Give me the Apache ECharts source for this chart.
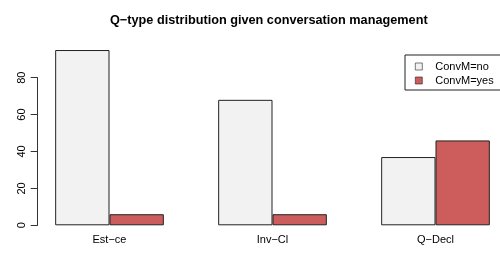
<!DOCTYPE html>
<html>
<head>
<meta charset="utf-8">
<script src="https://cdn.jsdelivr.net/npm/echarts@6/dist/echarts.min.js"></script>
<style>
  html, body { margin: 0; padding: 0; background: #fff; }
  #chart { width: 500px; height: 253px; }
</style>
</head>
<body>
<div id="chart"></div>
<script>
var categories = ['Est\u2212ce', 'Inv\u2212Cl', 'Q\u2212Decl'];
var convNo = [95, 68, 37];
var convYes = [6, 6, 46];
var yTicks = [0, 20, 40, 60, 80];

var chart = echarts.init(document.getElementById('chart'));
var font = 'Liberation Sans, Arial, Helvetica, sans-serif';

var option = {
	animation: false,
	title: {
		text: 'Q\u2212type distribution given conversation management',
		left: 105,
		top: 9,
		textStyle: { fontFamily: font, fontSize: 12.7, fontWeight: 'bold', color: '#000' }
	},
	legend: {
		orient: 'vertical',
		left: 405,
		top: 55,
		padding: [6, 8, 4, 10],
		borderColor: '#222',
		borderWidth: 1,
		itemWidth: 7,
		itemHeight: 7,
		itemGap: 3,
		icon: 'rect',
		itemStyle: { borderWidth: 0.6 },
		textStyle: { fontFamily: font, fontSize: 11, color: '#000', padding: [0, 0, 0, 8] },
		data: ['ConvM=no', 'ConvM=yes']
	},
	grid: [
		{ left: 28, width: 489, top: 40.8, bottom: 27.7, outerBoundsMode: 'none' },
		{ left: 37.7, width: 1, top: 77.7, bottom: 27.7, outerBoundsMode: 'none' }
	],
	xAxis: [
		{
			type: 'category',
			gridIndex: 0,
			data: categories,
			axisLine: { show: false },
			axisTick: { show: false },
			axisLabel: { fontFamily: font, fontSize: 11, color: '#000', margin: 9 }
		},
		{ type: 'value', gridIndex: 1, show: false }
	],
	yAxis: [
		{ type: 'value', gridIndex: 0, min: 0, max: 100, show: false },
		{
			type: 'value',
			gridIndex: 1,
			min: yTicks[0],
			max: yTicks[yTicks.length - 1],
			interval: 20,
			axisLine: { show: true, lineStyle: { color: '#333', width: 1 } },
			axisTick: { show: true, length: 7, lineStyle: { color: '#333' } },
			axisLabel: { fontFamily: font, fontSize: 11, color: '#000', rotate: 90, margin: 10 },
			splitLine: { show: false }
		}
	],
	series: [
		{
			name: 'ConvM=no',
			type: 'bar',
			data: convNo,
			barGap: '0%',
			barCategoryGap: '33.33%',
			itemStyle: { color: '#f2f2f2', borderColor: '#222', borderWidth: 1 }
		},
		{
			name: 'ConvM=yes',
			type: 'bar',
			data: convYes,
			barGap: '0%',
			barCategoryGap: '33.33%',
			itemStyle: { color: '#cd5c5c', borderColor: '#222', borderWidth: 1 }
		}
	]
};
chart.setOption(option);
</script>
</body>
</html>
